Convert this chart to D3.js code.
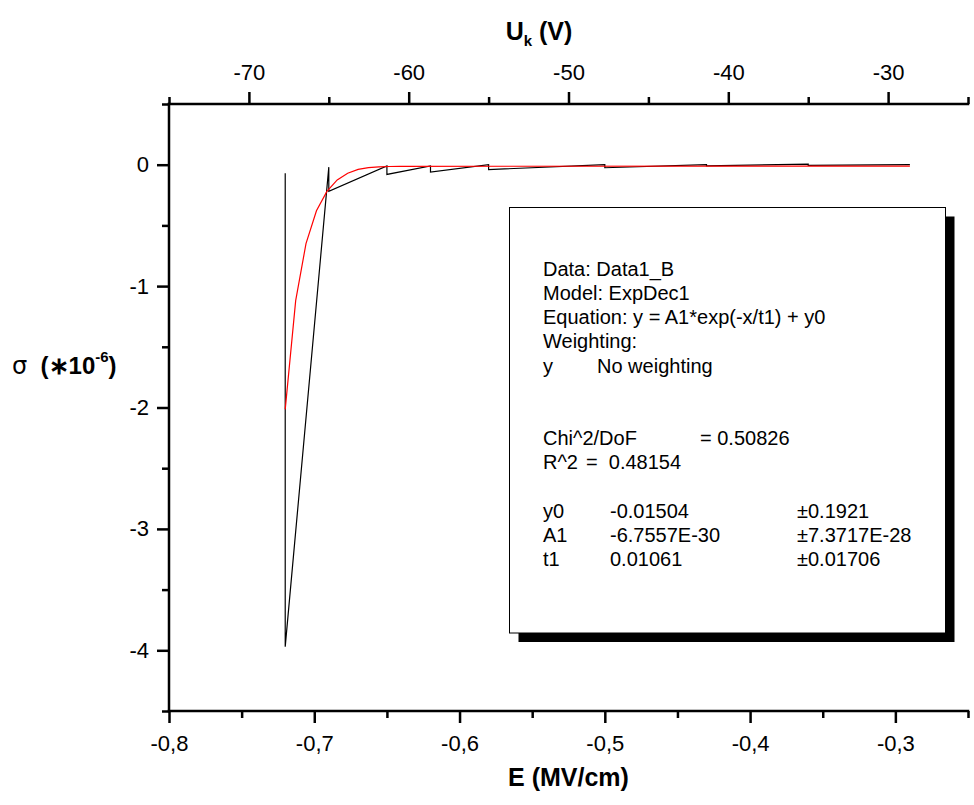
<!DOCTYPE html>
<html><head><meta charset="utf-8">
<script src="https://cdn.jsdelivr.net/npm/d3@7"></script>
<style>
body{margin:0;background:#fff;}
text{font-family:"Liberation Sans",Arial,sans-serif;fill:#000;}
</style></head>
<body>
<svg id="chart" width="974" height="805"></svg>
<script>
// ---- data ----
const dataE     = [-0.72, -0.72, -0.69, -0.69, -0.65, -0.65, -0.62, -0.62, -0.58, -0.58, -0.50, -0.50, -0.43, -0.43, -0.36, -0.36, -0.29];
const dataSigma = [-0.07, -3.97, -0.02, -0.22, -0.01, -0.08, -0.01, -0.06, 0.00, -0.04, 0.00, -0.025, 0.00, -0.01, 0.005, -0.006, 0.00];
const fitE      = [-0.72, -0.7128, -0.7057, -0.6985, -0.6913, -0.6842, -0.677, -0.6698, -0.6627, -0.6555, -0.6483, -0.6412, -0.29];
const fitSigma  = [-2.015, -1.12, -0.65, -0.38, -0.22, -0.125, -0.07, -0.038, -0.024, -0.018, -0.015, -0.013, -0.012];
const eMajor = [-0.8, -0.7, -0.6, -0.5, -0.4, -0.3];
const eMinor = [-0.75, -0.65, -0.55, -0.45, -0.35, -0.25];
const uMajor = [-70, -60, -50, -40, -30];
const uMinor = [-75, -65, -55, -45, -35, -25];
const sMajor = [0, -1, -2, -3, -4];
const sMinor = [0.5, -0.5, -1.5, -2.5, -3.5, -4.5];
const legendLines = [
  ["Data: Data1_B"],
  ["Model: ExpDec1"],
  ["Equation: y = A1*exp(-x/t1) + y0"],
  ["Weighting:"],
  ["y", "No weighting"],
  [], [],
  ["Chi^2/DoF", "= 0.50826"],
  ["R^2", "=  0.48154"],
  [],
  ["y0", "-0.01504", "±0.1921"],
  ["A1", "-6.7557E-30", "±7.3717E-28"],
  ["t1", "0.01061", "±0.01706"]
];

// ---- layout ----
const svg = d3.select("#chart");
const L = 169, R = 968, T = 104, B = 711;
const x = d3.scaleLinear().domain([-0.8, -0.25]).range([L, R]);
const xTop = d3.scaleLinear().domain([-75, -25]).range([L, R]);
const y = d3.scaleLinear().domain([-4.5, 0.5]).range([B, T]);
const AW = 2.5;
const fmtE = d => d.toFixed(1).replace(".", ",");
const fmtI = d => String(Math.round(d));

function styleAxis(g){
  g.select(".domain").remove();
  g.selectAll(".tick line").attr("stroke", "#000").attr("stroke-width", AW);
  g.selectAll(".tick text").attr("font-size", 22).attr("fill", "#000")
    .attr("font-family", '"Liberation Sans",Arial,sans-serif');
}
// bottom
svg.append("g").attr("transform", `translate(0,${B})`)
  .call(d3.axisBottom(x).tickValues(eMinor).tickSize(7).tickFormat(""))
  .call(styleAxis);
svg.append("g").attr("transform", `translate(0,${B})`)
  .call(d3.axisBottom(x).tickValues(eMajor).tickSize(12).tickPadding(12).tickFormat(fmtE))
  .call(styleAxis);
// top
svg.append("g").attr("transform", `translate(0,${T})`)
  .call(d3.axisTop(xTop).tickValues(uMinor).tickSize(7).tickFormat(""))
  .call(styleAxis);
svg.append("g").attr("transform", `translate(0,${T})`)
  .call(d3.axisTop(xTop).tickValues(uMajor).tickSize(12).tickPadding(12).tickFormat(fmtI))
  .call(styleAxis);
// left
svg.append("g").attr("transform", `translate(${L},0)`)
  .call(d3.axisLeft(y).tickValues(sMinor).tickSize(7).tickFormat(""))
  .call(styleAxis);
svg.append("g").attr("transform", `translate(${L},0)`)
  .call(d3.axisLeft(y).tickValues(sMajor).tickSize(12).tickPadding(8).tickFormat(fmtI))
  .call(styleAxis);
// axis lines
svg.append("line").attr("x1", L).attr("x2", R).attr("y1", B).attr("y2", B)
  .attr("stroke", "#000").attr("stroke-width", AW).attr("stroke-linecap", "square");
svg.append("line").attr("x1", L).attr("x2", R).attr("y1", T).attr("y2", T)
  .attr("stroke", "#000").attr("stroke-width", AW).attr("stroke-linecap", "square");
svg.append("line").attr("x1", L).attr("x2", L).attr("y1", T).attr("y2", B)
  .attr("stroke", "#000").attr("stroke-width", AW).attr("stroke-linecap", "square");

// ---- lines ----
const line = d3.line().x(d => x(d[0])).y(d => y(d[1]));
svg.append("path").datum(dataE.map((e, i) => [e, dataSigma[i]]))
  .attr("d", line).attr("fill", "none").attr("stroke", "#000").attr("stroke-width", 1.2);
svg.append("path").datum(fitE.map((e, i) => [e, fitSigma[i]]))
  .attr("d", line).attr("fill", "none").attr("stroke", "#ff0000").attr("stroke-width", 1.2);

// ---- titles ----
svg.append("text").attr("x", (L + R) / 2).attr("y", 786).attr("text-anchor", "middle")
  .attr("font-size", 25).attr("font-weight", "bold").text("E (MV/cm)");
const tt = svg.append("text").attr("x", 539).attr("y", 40).attr("text-anchor", "middle")
  .attr("font-size", 25).attr("font-weight", "bold");
tt.append("tspan").text("U");
tt.append("tspan").attr("font-size", 15).attr("dy", 6).text("k");
tt.append("tspan").attr("dy", -6).text(" (V)");
const yl = svg.append("text").attr("x", 12).attr("y", 374).attr("font-size", 24).style("white-space", "pre");
yl.append("tspan").attr("font-family", '"DejaVu Sans",sans-serif').text("σ");
yl.append("tspan").attr("font-weight", "bold").text("  (∗10");
yl.append("tspan").attr("font-weight", "bold").attr("font-size", 15).attr("dy", -12).text("-6");
yl.append("tspan").attr("font-weight", "bold").attr("dy", 12).text(")");

// ---- legend box ----
const bx = 509.5, by = 207.5, bw = 436, bh = 425.5, sh = 9;
svg.append("rect").attr("x", bx + sh).attr("y", by + sh).attr("width", bw).attr("height", bh).attr("fill", "#000");
svg.append("rect").attr("x", bx).attr("y", by).attr("width", bw).attr("height", bh)
  .attr("fill", "#fff").attr("stroke", "#000").attr("stroke-width", 1);
const colX = {4: [543, 597], 7: [543, 700], 8: [543, 586], 10: [543, 610, 797], 11: [543, 610, 797], 12: [543, 610, 797]};
const lg = svg.append("g");
legendLines.forEach((row, i) => {
  const xs = colX[i] || [543];
  row.forEach((t, j) => {
    lg.append("text").attr("x", xs[j]).attr("y", 275.7 + 24.2 * i)
      .attr("font-size", 20).style("white-space", "pre").text(t);
  });
});
</script>
</body></html>
